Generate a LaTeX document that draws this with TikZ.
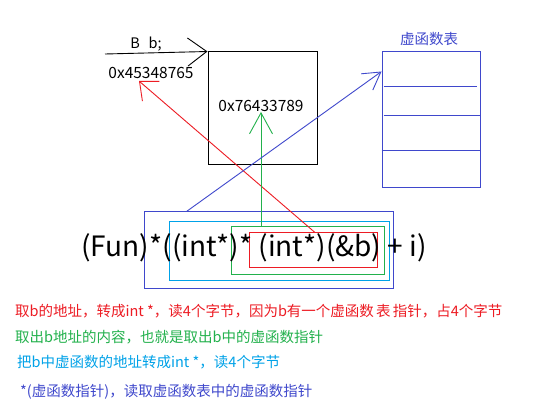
\documentclass[tikz,border=0pt]{standalone}
\usepackage{fontspec}
\setmainfont{Noto Sans CJK SC}
\usetikzlibrary{arrows.meta,calc}
\definecolor{pred}{HTML}{ED1C24}
\definecolor{pgreen}{HTML}{22B14C}
\definecolor{pcyan}{HTML}{00A2E8}
\definecolor{pindigo}{HTML}{3F48CC}
\tikzset{
  txt/.style={inner sep=0pt, font=\fontsize{15.5}{17}\selectfont},
  bigtxt/.style={inner sep=0pt, font=\fontsize{28}{32}\selectfont},
  note/.style={inner sep=0pt, anchor=west, font=\fontsize{14.5}{16}\selectfont},
  frame/.style={draw, line width=1pt, inner sep=0pt},
  conn/.style={line width=0.9pt},
}
\begin{document}
\begin{tikzpicture}[x=1pt,y=-1pt]
\useasboundingbox[fill=white] (0,0) rectangle (542,420);
% memory box
\node[frame, minimum width=109pt, minimum height=113pt] (memb) at (262.5,108.5) {};
\node[txt] (addr2) at (261,106) {0x76433789};
\node[txt, font=\fontsize{14.5}{16}\selectfont] (btext) at (146,44) {B\hspace{0.6em}b;};
\node[txt] (addr1) at (151,73) {0x45348765};
\coordinate (bstart) at (105,54);
\coordinate (rtip) at (139,81);
% vtable
\node[frame, draw=pindigo, minimum width=98pt, minimum height=136pt] (table) at (431,120) {};
\node[txt, text=pindigo, font=\fontsize{14.5}{16}\selectfont] (ttitle) at (429,39) {虚函数表};
\draw[pindigo, line width=1pt] ($(table.north west)+(2,35)$) -- ($(table.north east)+(-4,35)$);
\draw[pindigo, line width=1pt] ($(table.north west)+(2,64)$) -- ($(table.north east)+(0,64)$);
\draw[pindigo, line width=1pt] ($(table.north west)+(0,99)$) -- ($(table.north east)+(0,99)$);
% formula boxes
\node[frame, draw=pindigo, minimum width=249pt, minimum height=76pt] (bluebox) at (268.5,250) {};
\node[frame, draw=pcyan, minimum width=220pt, minimum height=58pt] (cyanbox) at (279,251) {};
\node[frame, draw=pgreen, minimum width=153pt, minimum height=47pt] (greenbox) at (307.5,250.5) {};
\node[frame, draw=pred, minimum width=128pt, minimum height=34pt] (redbox) at (313,250) {};
\node[bigtxt] (formula) at (254,248) {(Fun)*((int*)*\ (int*)(\&b)\ + i)};
% connectors
\draw[conn, -{Straight Barb[length=19pt, width=28pt]}] (bstart) -- (memb.north west);
\draw[conn, pred, -{Straight Barb[length=15pt, width=26pt]}] ([xshift=2pt]redbox.north) -- (rtip);
\draw[conn, pgreen, -{Straight Barb[length=21pt, width=23pt]}] (addr2.south |- greenbox.north) -- (addr2.south);
\draw[conn, pindigo, -{Straight Barb[length=17pt, width=20pt]}] ([xshift=43pt]bluebox.north west) -- ([yshift=-20pt]table.north west);
% notes
\node[note, text=pred] (n1) at (15,311) {取b的地址，转成int *，读4个字节，因为b有一个虚函数\hspace{0.15em}表\hspace{0.15em}指针，占4个字节};
\node[note, text=pgreen] (n2) at (15,337) {取出b地址的内容，也就是取出b中的虚函数指针};
\node[note, text=pcyan] (n3) at (17,362) {把b中虚函数的地址转成int *，读4个字节};
\node[note, text=pindigo] (n4) at (20,392) {*(虚函数指针)，读取虚函数表中的虚函数指针};
\end{tikzpicture}
\end{document}
